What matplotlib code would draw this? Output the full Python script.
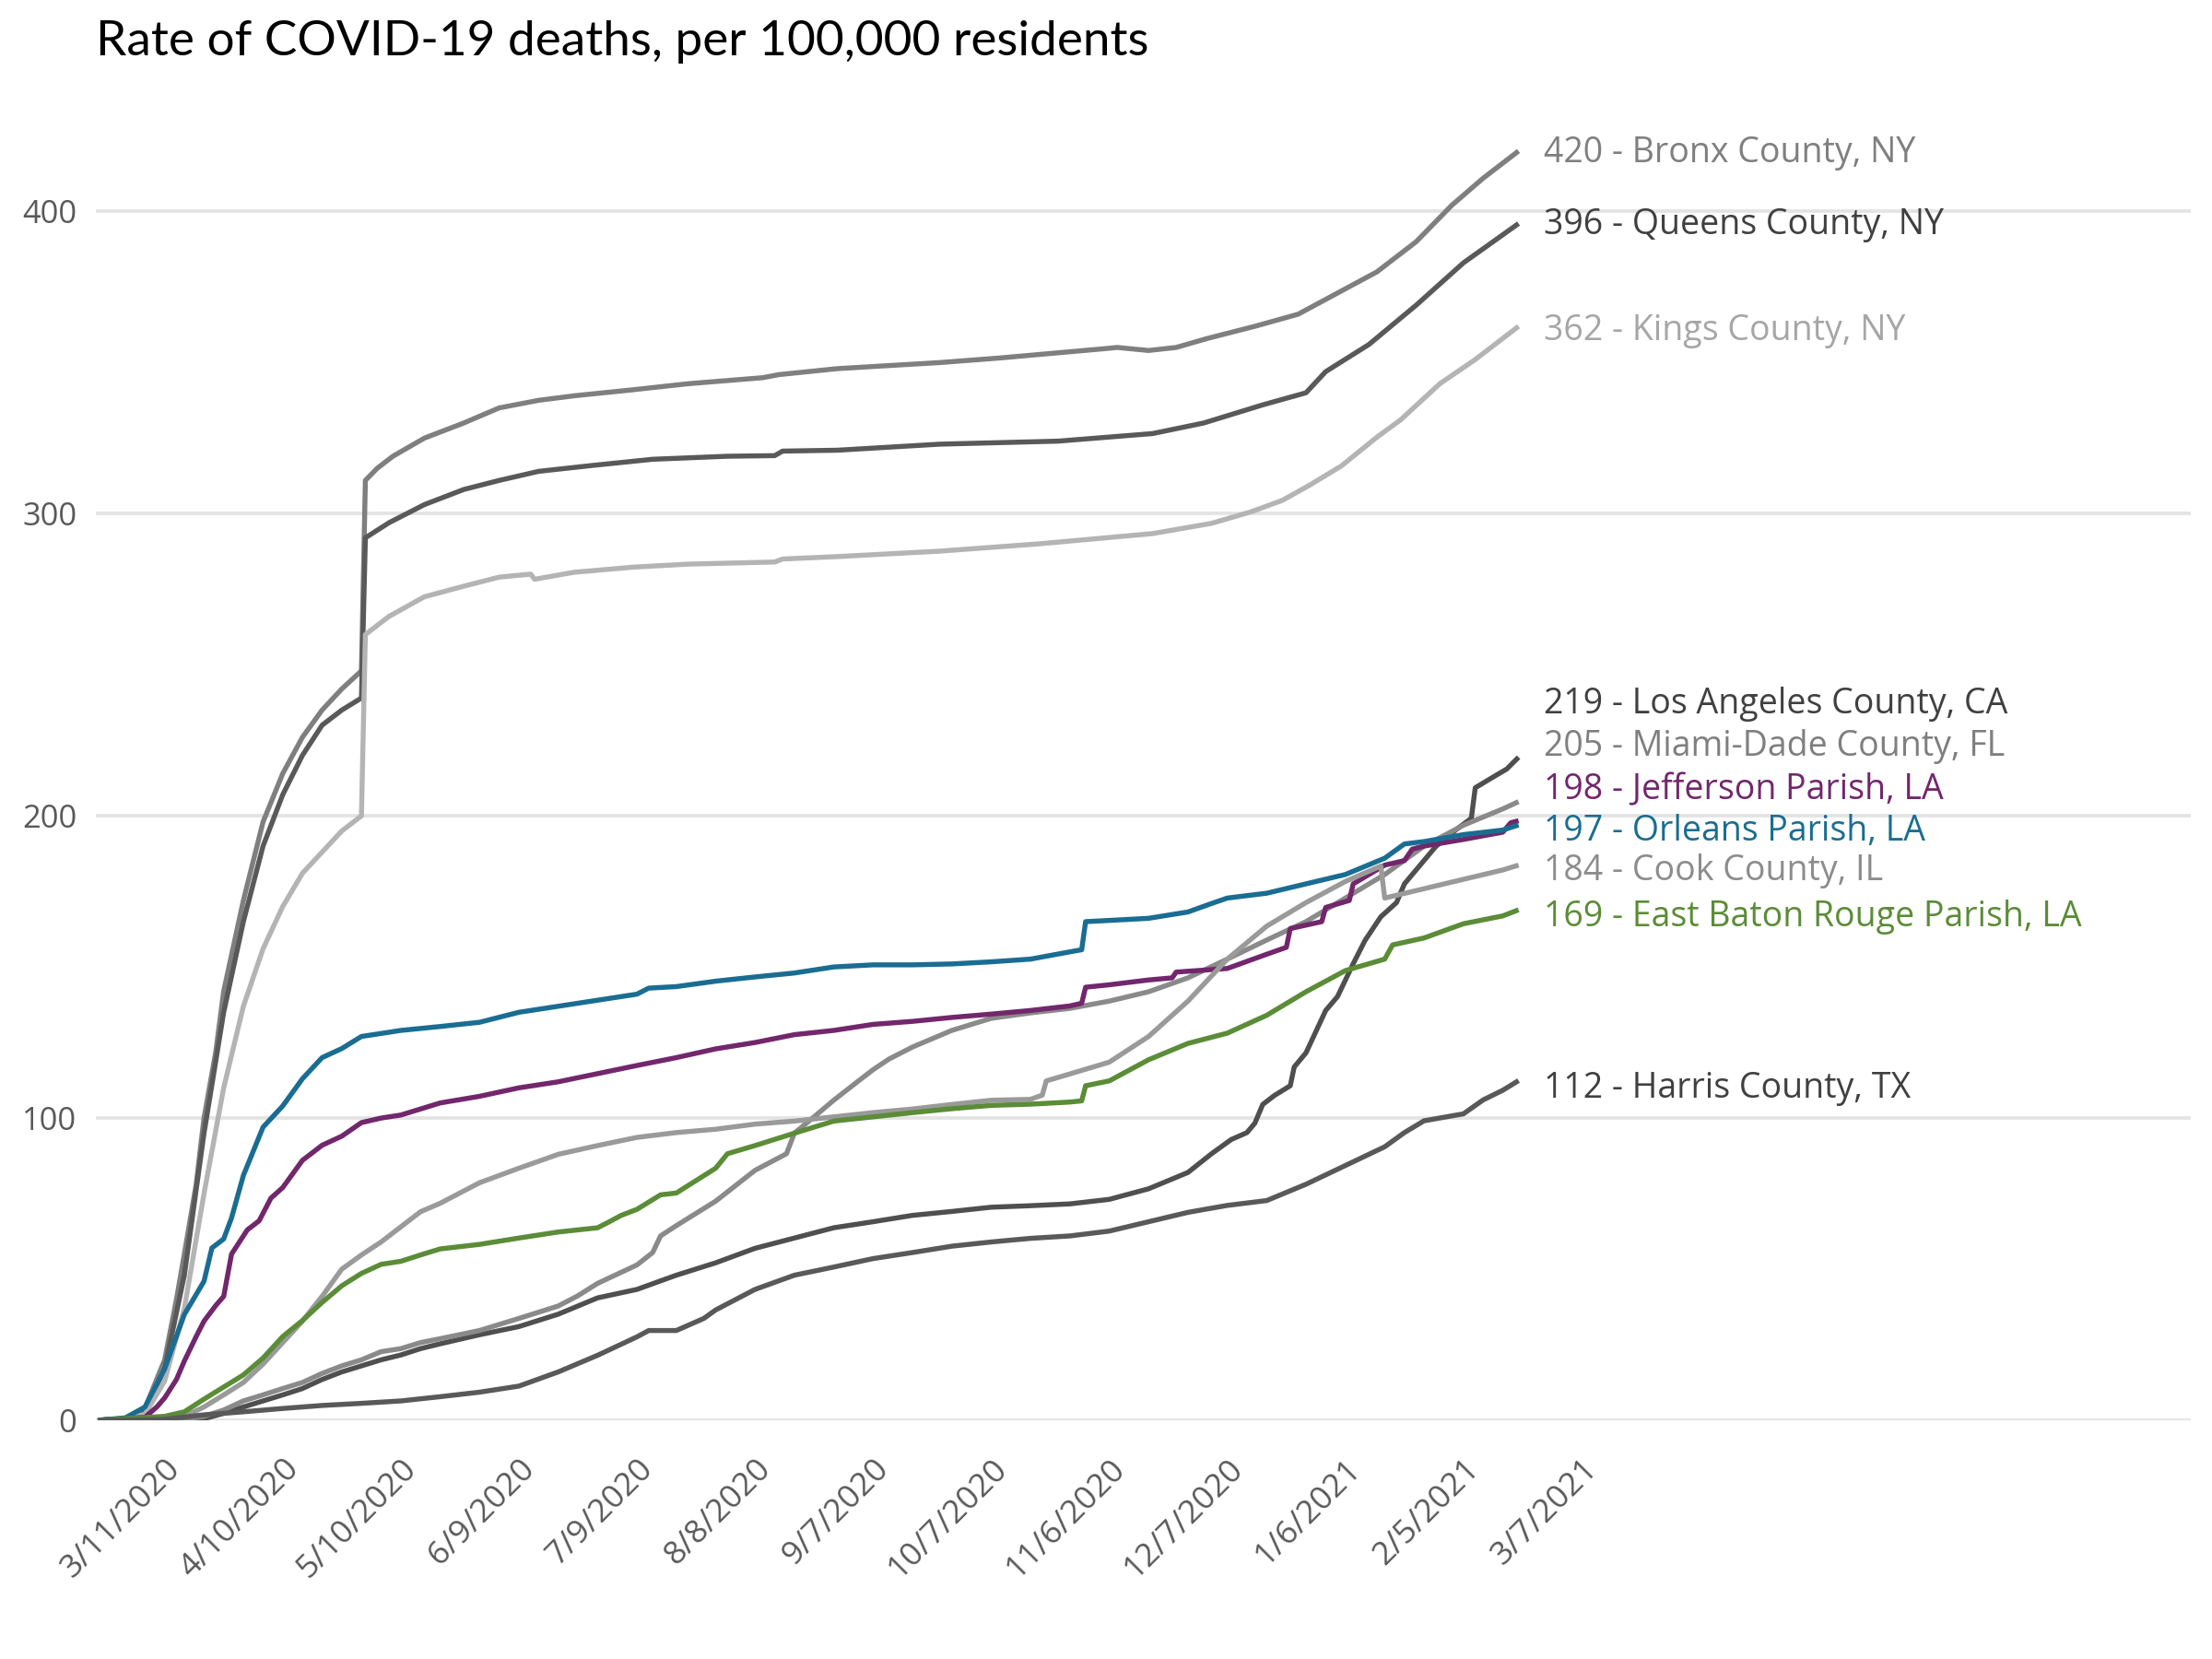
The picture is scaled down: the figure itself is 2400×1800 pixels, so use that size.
import pandas as pd
import matplotlib.pyplot as plt

plt.rcParams["font.family"] = ["Open Sans", "DejaVu Sans"]

# days are counted from 3/11/2020; values are deaths per 100,000 residents
base_date = pd.Timestamp("2020-03-11")

bronx_days = [-17, -10, -5, 0, 3, 5, 8, 10, 13, 15, 20, 25, 30, 35, 40, 45, 50, 51, 54, 58,
              66, 76, 85, 95, 104, 119, 133, 152, 156, 171, 197, 212, 238, 242, 250, 257, 265,
              277, 288, 298, 308, 318, 327, 335, 344]
bronx_vals = [0, 0.5, 4, 20, 40, 55, 78, 100, 122, 142, 172, 198, 214, 226, 235, 242, 248, 311,
              315, 319, 325, 330, 335, 337.5, 339, 341, 343, 345, 346, 348, 350, 351.5, 354.5,
              355, 354, 355, 358, 362, 366, 373, 380, 390, 402, 411, 420]

queens_days = [-17, -10, -5, 0, 5, 10, 15, 20, 25, 30, 35, 40, 45, 50, 51, 57, 66, 76, 85, 95,
               109, 124, 143, 155, 157, 171, 197, 227, 251, 264, 279, 290, 295, 306, 318, 330, 344]
queens_vals = [0, 0.5, 3, 17, 48, 95, 135, 165, 190, 207, 220, 230, 235, 239, 292, 297, 303, 308,
               311, 314, 316, 318, 319, 319.2, 320.7, 321, 323, 324, 326.5, 330, 336, 340, 347,
               356, 369, 383, 396]

kings_days = [-17, -10, -5, 0, 5, 10, 15, 20, 25, 30, 35, 40, 45, 50, 51, 57, 66, 76, 85, 93,
              94, 104, 119, 133, 155, 157, 171, 197, 222, 251, 266, 276, 284, 291, 299, 308, 314,
              324, 333, 344]
kings_vals = [0, 0.3, 2, 13, 37, 75, 110, 137, 156, 170, 181, 188, 195, 200, 260, 266, 272.5,
              276, 279, 280, 278.3, 280.6, 282.3, 283.3, 284, 285, 285.8, 287.6, 290, 293.4,
              296.8, 300.6, 304.4, 309.5, 315.8, 325.3, 331, 343, 351, 362]

la_days = [-17, 10, 15, 20, 25, 30, 35, 40, 45, 50, 55, 60, 65, 70, 80, 90, 100, 110, 120, 130,
           140, 150, 160, 170, 180, 190, 200, 210, 220, 230, 240, 250, 260, 266, 271, 275, 277,
           279, 282, 286, 287, 290, 295, 298, 302, 305, 309, 313, 315, 319, 323, 328, 332, 333,
           338, 341, 344]
la_vals = [0, 0.5, 2.3, 4.4, 6.4, 8.4, 10.5, 13.5, 16, 18, 20, 21.6, 23.7, 25.3, 28.3, 31, 35.1,
           40.5, 43.3, 48, 52.1, 56.9, 60.3, 63.7, 65.7, 67.8, 69.1, 70.5, 71, 71.6, 73.1, 76.6,
           82, 88.2, 92.9, 95.2, 98.3, 104.5, 107.5, 110.7, 116.9, 121.6, 135.6, 140.2, 151.1,
           158.8, 166.6, 171.3, 177.5, 183.7, 189.9, 195.3, 199.2, 209.3, 213.2, 215.5, 219.4]

miami_days = [-17, 5, 10, 15, 20, 25, 30, 35, 40, 45, 50, 55, 60, 65, 70, 80, 90, 100, 105, 110,
              120, 124, 126, 130, 140, 150, 158, 160, 165, 170, 176, 180, 184, 190, 200, 210, 220,
              230, 240, 250, 260, 270, 280, 290, 300, 310, 320, 330, 340, 344]
miami_vals = [0, 0.3, 1.3, 3.4, 6.4, 8.4, 10.5, 12.5, 15.5, 18, 20, 22.7, 23.7, 25.7, 27, 29.7,
              33.7, 37.8, 41.2, 45.3, 51.4, 55.5, 61, 64.4, 72.5, 82.7, 88.2, 95, 100.4, 105.9,
              112, 116, 119.5, 123.5, 129, 133, 134.8, 136.3, 138.7, 141.8, 146.4, 152.6, 158.9,
              165, 172.8, 180.6, 190, 196.9, 202.3, 204.7]

jefferson_days = [-17, -5, -2, 0, 3, 5, 8, 10, 13, 15, 17, 21, 24, 27, 30, 35, 40, 45, 50, 55,
                  60, 70, 80, 90, 100, 110, 120, 130, 140, 150, 160, 170, 180, 190, 200, 210, 220,
                  230, 233, 234, 240, 250, 256, 257, 270, 280, 285, 286, 294, 295, 301, 302, 310,
                  315, 317, 320, 330, 340, 342, 344]
jefferson_vals = [0, 1, 4.4, 7.4, 13.5, 19.6, 27.7, 32.8, 38, 41, 55, 63, 66, 73.5, 77, 86, 91,
                  94, 98.5, 100, 101, 105, 107.2, 110, 112, 114.7, 117.4, 120, 122.9, 125, 127.6,
                  129, 131, 132, 133.3, 134.4, 135.6, 137.1, 138, 143.3, 144.1, 145.7, 146.4,
                  148.3, 149.5, 154.2, 156.5, 162.7, 165, 169.7, 172, 177.5, 183.7, 185.2, 189,
                  190, 192.2, 194.6, 197.7, 198.4]

orleans_days = [-17, -10, -5, 0, 5, 10, 12, 15, 17, 20, 25, 30, 35, 40, 45, 50, 55, 60, 70, 80,
                90, 100, 110, 120, 123, 130, 140, 150, 160, 170, 180, 190, 200, 210, 220, 230,
                233, 234, 240, 250, 260, 266, 270, 280, 290, 300, 310, 315, 320, 330, 340, 344]
orleans_vals = [0, 0.8, 4.4, 17, 35, 46, 57, 60, 67, 81, 97, 104, 113, 120, 123, 127, 128, 129,
                130.3, 131.7, 135, 137, 139, 141, 143, 143.5, 145.3, 146.7, 148, 150, 150.7,
                150.7, 151, 151.7, 152.6, 155, 155.7, 165, 165.4, 166.1, 168.2, 171, 172.8,
                174.4, 177.5, 180.6, 186, 190.7, 191.5, 193.8, 195.3, 197]

cook_days = [-17, 0, 5, 10, 15, 20, 25, 30, 35, 40, 45, 50, 55, 60, 65, 70, 80, 90, 100, 110,
             120, 130, 140, 150, 160, 170, 180, 190, 200, 210, 220, 223, 224, 230, 240, 250, 260,
             270, 280, 290, 300, 309, 310, 320, 330, 340, 344]
cook_vals = [0, 0, 1.3, 4.4, 8.4, 12.5, 18.6, 25.7, 32.8, 41, 50, 54.7, 59, 64, 69, 71.8, 78.6,
             83.4, 88, 90.9, 93.6, 95.2, 96.3, 98, 99, 100.4, 101.8, 103, 104.5, 105.9, 106.2,
             107.6, 112.3, 114.6, 118.5, 127, 138.7, 152.6, 163.5, 171.3, 178.3, 183.4, 172.8,
             175.9, 179, 182.1, 183.7]

ebr_days = [-17, 0, 5, 10, 15, 20, 25, 30, 35, 40, 45, 50, 55, 60, 65, 70, 80, 90, 100, 110,
            113, 116, 120, 126, 130, 135, 140, 143, 150, 160, 170, 180, 190, 200, 210, 220, 230,
            233, 234, 240, 250, 260, 270, 280, 290, 300, 310, 312, 320, 330, 340, 344]
ebr_vals = [0, 1.3, 2.8, 7, 11, 15, 20.6, 27.7, 33, 39, 44.5, 48.6, 51.6, 52.6, 54.7, 56.7,
            58.2, 60.3, 62.3, 63.7, 65.7, 67.8, 69.8, 74.6, 75.2, 79.3, 83.4, 88.2, 90.9, 95, 99,
            100.4, 101.8, 103.1, 104.2, 104.6, 105.3, 105.7, 110.7, 112.3, 119.3, 124.7, 128.1,
            134, 141.8, 148.8, 152.6, 157.3, 159.6, 164.3, 166.9, 168.9]

harris_days = [-17, 0, 10, 20, 30, 40, 50, 60, 70, 80, 90, 100, 110, 120, 123, 130, 137, 140,
               150, 160, 170, 180, 190, 200, 210, 220, 230, 240, 250, 260, 270, 280, 290, 300,
               310, 315, 320, 330, 335, 340, 344]
harris_vals = [0, 0.3, 1.8, 2.8, 3.9, 4.9, 5.6, 6.4, 7.8, 9.3, 11.3, 16, 21.5, 27.6, 29.7, 29.7,
               33.7, 36.5, 43.3, 48, 50.7, 53.5, 55.5, 57.6, 59, 60.2, 61, 62.6, 65.7, 68.8,
               71.1, 72.7, 78.1, 84.3, 90.5, 95.2, 99.1, 101.4, 106, 109.2, 112.4]

names = ["Bronx County, NY", "Queens County, NY", "Kings County, NY", "Los Angeles County, CA",
         "Miami-Dade County, FL", "Jefferson Parish, LA", "Orleans Parish, LA", "Cook County, IL",
         "East Baton Rouge Parish, LA", "Harris County, TX"]
all_days = [bronx_days, queens_days, kings_days, la_days, miami_days, jefferson_days,
            orleans_days, cook_days, ebr_days, harris_days]
all_vals = [bronx_vals, queens_vals, kings_vals, la_vals, miami_vals, jefferson_vals,
            orleans_vals, cook_vals, ebr_vals, harris_vals]

# axis labels as printed on the original chart (one every 30 days)
tick_labels = ["3/11/2020", "4/10/2020", "5/10/2020", "6/9/2020", "7/9/2020", "8/8/2020",
               "9/7/2020", "10/7/2020", "11/6/2020", "12/7/2020", "1/6/2021", "2/5/2021",
               "3/7/2021"]

line_colors = ["#7f7f7f", "#595959", "#b4b4b4", "#4f4f4f", "#8a8a8a", "#72276c", "#1a6d92",
               "#9a9a9a", "#5b8c37", "#595959"]
text_colors = ["#7f7f7f", "#404040", "#a6a6a6", "#404040", "#7f7f7f", "#72276c", "#1a6d92",
               "#8c8c8c", "#5b8c37", "#404040"]
# vertical spot of each end label (spread apart so they don't overlap)
label_y = [419.2, 395.5, 360.4, 236.7, 222.7, 208.5, 194.9, 181.6, 166.5, 109.6]

fig = plt.figure(figsize=(16, 12), dpi=150)
ax = fig.add_axes([0.0433, 0.1439, 0.9471, 0.8015])

for name, days, vals, lc, tc, ly in zip(names, all_days, all_vals, line_colors, text_colors, label_y):
    dates = base_date + pd.to_timedelta(days, unit="D")
    ax.plot(dates, vals, color=lc, lw=2.6, solid_joinstyle="round", solid_capstyle="butt", zorder=3)
    ax.annotate(f"{round(vals[-1])} - {name}", xy=(dates[-1], ly), xytext=(13, -4.6),
                textcoords="offset points", ha="left", va="baseline", fontsize=18,
                color=tc, annotation_clip=False)

tick_dates = [base_date + pd.Timedelta(days=30 * k) for k in range(len(tick_labels))]
ax.set_xticks(tick_dates)
ax.set_xticklabels(tick_labels, rotation=45, ha="right", va="top", rotation_mode="anchor",
                   fontsize=17, color="#595959")
ax.set_xlim(base_date - pd.Timedelta(days=17.5), base_date + pd.Timedelta(days=514.8))

ax.set_ylim(0, 440)
ax.set_yticks([0, 100, 200, 300, 400])
ax.tick_params(axis="y", length=0, pad=10, labelsize=16.5, labelcolor="#595959")
ax.tick_params(axis="x", length=0, pad=17)
ax.yaxis.grid(True, color="#e3e3e3", lw=1.8)
ax.set_axisbelow(True)
for s in ax.spines.values():
    s.set_visible(False)

fig.text(0.0433, 1 - 60 / 1800, "Rate of COVID-19 deaths, per 100,000 residents",
         fontsize=25.5, family=["Lato", "DejaVu Sans"], va="baseline", ha="left", color="black")

fig.savefig("out.png", dpi=150)
